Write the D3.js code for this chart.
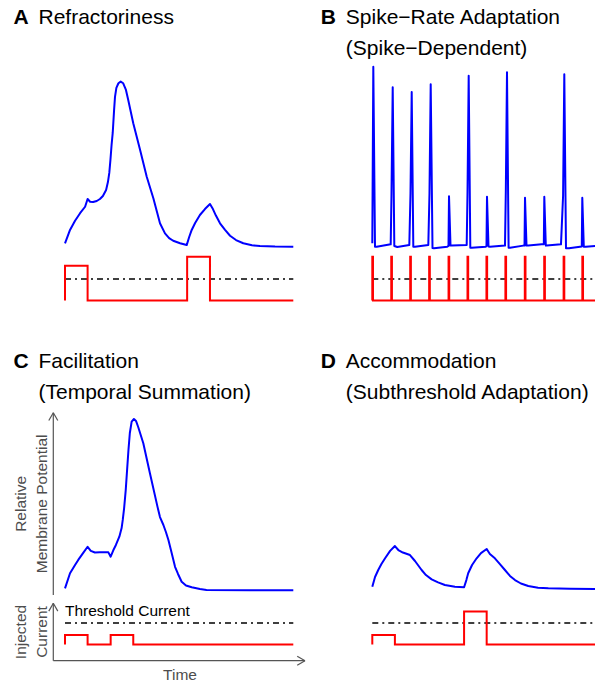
<!DOCTYPE html>
<html>
<head>
<meta charset="utf-8">
<script src="https://cdn.jsdelivr.net/npm/d3@7"></script>
<style>
  html, body { margin: 0; padding: 0; background: #fff; }
  svg { display: block; font-family: "Liberation Sans", Arial, Helvetica, sans-serif; }
</style>
</head>
<body>
<script>
// Time in arbitrary units (0-100), membrane potential in relative units above rest,
// injected current in units of the threshold current.

// A: refractoriness
const voltageA = [
  [0,1.9],[2.2,9.3],[4.4,14.4],[6.6,18.6],[8.8,22.2],[9.9,26.5],[11.0,25.0],[12.3,24.8],
  [13.9,25.4],[15.3,26.5],[16.6,28.2],[18.0,31.5],[18.8,35.9],[19.4,41.0],[19.9,48.2],
  [20.4,56.5],[20.9,63.2],[21.5,75.9],[21.9,83.2],[22.5,88.2],[23.4,90.8],[24.4,91.7],
  [25.5,90.8],[26.7,87.1],[27.7,81.5],[29.9,68.6],[32.9,53.7],[35.8,38.9],[38.7,26.9],
  [40.3,19.3],[41.6,13.0],[43.8,7.4],[45.6,4.8],[47.4,3.3],[50.4,1.9],[53.3,0.9],
  [54.4,5.4],[55.5,9.3],[57.0,13.2],[59.1,17.6],[61.3,20.9],[63.5,23.7],[64.8,20.9],
  [66.1,17.3],[67.9,13.0],[70.1,9.3],[72.3,6.1],[74.9,3.7],[78.1,1.9],[81.9,0.8],
  [85.4,0.4],[92.0,0.1],[100,0]
];
const pulsesA = [[0, 9.9, 1.62], [53.5, 63.5, 2.04]];

// B: spike-rate adaptation
const voltageB = [
  [0,1.9],[0.44,100],[1.18,0],[1.93,0],[8.06,1.3],
  [8.41,29.7],[8.94,88.6],[9.64,0.4],[10.95,-0.2],[16.21,0.9],
  [16.73,29.7],[17.26,85.9],[17.96,0],[18.70,0],[24.53,0.9],
  [25.05,29.8],[25.58,90.2],[26.37,-0.7],[27.03,-0.9],[32.85,0],
  [33.38,0.4],[33.60,28.0],[34.25,0.6],[34.78,0.6],[41.35,0.9],
  [41.70,29.8],[42.22,95.0],[42.93,-0.6],[43.54,-0.6],[49.67,0],
  [50.02,0.4],[50.24,27.8],[50.90,0.1],[51.55,0],[58.12,0.6],
  [58.48,30.6],[59.00,96.9],[59.70,-0.6],[60.31,-0.6],[66.14,0.6],
  [66.67,0.6],[66.89,27.2],[67.54,0.6],[68.33,0.6],[74.20,1.3],
  [75.13,1.3],[75.34,27.8],[76.00,0.6],[76.39,0.6],[82.65,1.3],
  [83.57,28.3],[84.10,95.8],[84.84,-0.9],[86.16,-0.9],[90.98,0],
  [91.76,0.1],[91.98,27.2],[92.64,0],[93.48,0],[99.7,0.6]
];
const pulseOnsetsB = [0, 8.3, 16.6, 24.9, 33.4, 41.7, 50.0, 58.3, 66.8, 75.3, 83.8, 92.0];
const pulseWidthB = 0.3;
const pulseAmpB = 2.04;

// C: facilitation
const voltageC = [
  [0,1.3],[2.2,9.7],[4.4,14.3],[5.8,17.1],[7.9,20.9],[9.9,24.4],[11.3,22.1],[13.1,21.2],
  [15.3,21.3],[19.0,21.3],[20.0,18.9],[21.2,22.6],[22.3,25.4],[23.8,30.0],[24.8,34.8],
  [25.3,39.3],[25.9,45.9],[26.6,55.9],[27.2,67.1],[27.8,78.2],[28.4,87.6],[29.2,93.9],
  [30.2,95.4],[31.1,94.3],[32.1,90.8],[34.3,81.9],[37.2,65.2],[40.5,46.7],[41.6,40.9],
  [43.1,36.5],[44.2,32.6],[45.3,28.2],[46.4,22.6],[48.2,13.3],[49.5,9.3],[51.1,5.0],
  [53.0,2.9],[55.5,1.9],[59.1,0.9],[62.0,0.4],[81.0,0.2],[100,0.2]
];
const pulsesC = [[0, 9.9, 0.44], [20.0, 29.9, 0.44]];

// D: accommodation
const voltageD = [
  [0,2.2],[1.2,7.6],[2.6,11.5],[4.0,14.8],[5.6,18.0],[7.8,22.1],[9.9,24.8],[11.4,22.6],
  [13.4,21.2],[16.5,19.8],[18.7,16.5],[21.6,11.5],[23.5,8.7],[26.0,6.3],[28.8,4.6],
  [31.8,3.2],[36.2,2.2],[40.2,1.9],[41.2,5.9],[42.0,9.7],[43.7,14.3],[45.7,18.0],
  [47.6,20.9],[50.1,23.2],[51.5,20.4],[53.7,18.0],[55.9,14.8],[58.1,11.5],[60.3,8.2],
  [62.5,5.9],[65.1,4.0],[68.3,2.6],[72.6,1.7],[77.1,1.3],[86.6,1.1],[99.7,0.9]
];
const pulsesD = [[0, 9.9, 0.44], [40.2, 50.1, 1.53]];

const thresholdCurrent = 1;

const panelLetters = ["A", "B", "C", "D"];
const panelTitles = [
  ["Refractoriness"],
  ["Spike\u2212Rate Adaptation", "(Spike\u2212Dependent)"],
  ["Facilitation", "(Temporal Summation)"],
  ["Accommodation", "(Subthreshold Adaptation)"]
];
const axisLabelsV = ["Relative", "Membrane Potential"];
const axisLabelsI = ["Injected", "Current"];
const axisLabelT = "Time";
const thresholdLabel = "Threshold Current";

// ---------------------------------------------------------------------------
const W = 595, H = 684;
const svg = d3.select("body").append("svg").attr("width", W).attr("height", H);
svg.append("rect").attr("width", W).attr("height", H).attr("fill", "#fff");

// shared scales (each panel is a translated copy of the same frame)
const x = d3.scaleLinear().domain([0, 100]).range([65, 293.3]);
const yV = d3.scaleLinear().domain([0, 100]).range([246.7, 66.7]);
const yI = d3.scaleLinear().domain([0, 1]).range([300.5, 279]);

const lineV = d3.line().x(d => x(d[0])).y(d => yV(d[1]));
const lineI = d3.line().x(d => x(d[0])).y(d => yI(d[1]));

// turn [start, end, amplitude] pulses into a square-wave current trace
function currentTrace(pulses) {
  const pts = [];
  pulses.forEach(([s, e, a]) => {
    pts.push([s, 0], [s, a], [e, a], [e, 0]);
  });
  pts.push([100, 0]);
  return pts;
}

const pulsesB = pulseOnsetsB.map(t => [t, t + pulseWidthB, pulseAmpB]);

const panels = [
  { v: voltageA, p: pulsesA, dx: 0, dy: 0 },
  { v: voltageB, p: pulsesB, dx: 307.3, dy: 0 },
  { v: voltageC, p: pulsesC, dx: 0, dy: 344 },
  { v: voltageD, p: pulsesD, dx: 307.3, dy: 344 }
];

panels.forEach((pn, k) => {
  const g = svg.append("g").attr("transform", `translate(${pn.dx},${pn.dy})`);

  // title
  g.append("text").attr("x", 13.5).attr("y", 24)
    .attr("font-size", 21).attr("font-weight", "bold").attr("fill", "#000")
    .text(panelLetters[k]);
  panelTitles[k].forEach((t, j) => {
    g.append("text").attr("x", 38.5).attr("y", 24 + j * 31)
      .attr("font-size", 21).attr("fill", "#000").text(t);
  });

  // threshold current
  g.append("path")
    .attr("d", lineI([[0, thresholdCurrent], [100, thresholdCurrent]]))
    .attr("fill", "none").attr("stroke", "#000").attr("stroke-width", 1.5)
    .attr("stroke-dasharray", "6,4,2,4");

  // injected current
  g.append("path")
    .attr("d", lineI(currentTrace(pn.p)))
    .attr("fill", "none").attr("stroke", "#ff0000").attr("stroke-width", 2)
    .attr("stroke-linejoin", "miter");

  // membrane potential
  g.append("path")
    .attr("d", lineV(pn.v))
    .attr("fill", "none").attr("stroke", "#0000ff").attr("stroke-width", 2)
    .attr("stroke-linejoin", "round");
});

// axes and labels for panel C
const gc = svg.append("g").attr("transform", "translate(0,344)");
const axisColor = "#555";
const labelColor = "#4d4d4d";
const ax = 53.3;

function arrow(x1, y1, x2, y2) {
  gc.append("line").attr("x1", x1).attr("y1", y1).attr("x2", x2).attr("y2", y2)
    .attr("stroke", axisColor).attr("stroke-width", 1.2);
  const ang = Math.atan2(y2 - y1, x2 - x1);
  const L = 9, a = Math.PI / 6;
  [ang + Math.PI - a, ang + Math.PI + a].forEach(t => {
    gc.append("line").attr("x1", x2).attr("y1", y2)
      .attr("x2", x2 + L * Math.cos(t)).attr("y2", y2 + L * Math.sin(t))
      .attr("stroke", axisColor).attr("stroke-width", 1.2);
  });
}
arrow(ax, 251, ax, 68.7);
arrow(ax, 316.7, ax, 259.3);
arrow(ax, 316.7, 305, 316.7);

const vMid = (68.7 + 251) / 2, iMid = (259.3 + 316.7) / 2;
[[axisLabelsV, vMid], [axisLabelsI, iMid]].forEach(([labs, mid]) => {
  labs.forEach((t, j) => {
    gc.append("text")
      .attr("transform", `translate(${j === 0 ? 26 : 46.5},${mid}) rotate(-90)`)
      .attr("text-anchor", "middle").attr("font-size", 15.5).attr("fill", labelColor)
      .text(t);
  });
});
gc.append("text").attr("x", 180).attr("y", 336).attr("text-anchor", "middle")
  .attr("font-size", 15.5).attr("fill", labelColor).text(axisLabelT);
gc.append("text").attr("x", 65).attr("y", 272)
  .attr("font-size", 15.5).attr("fill", "#000").text(thresholdLabel);
</script>
</body>
</html>
